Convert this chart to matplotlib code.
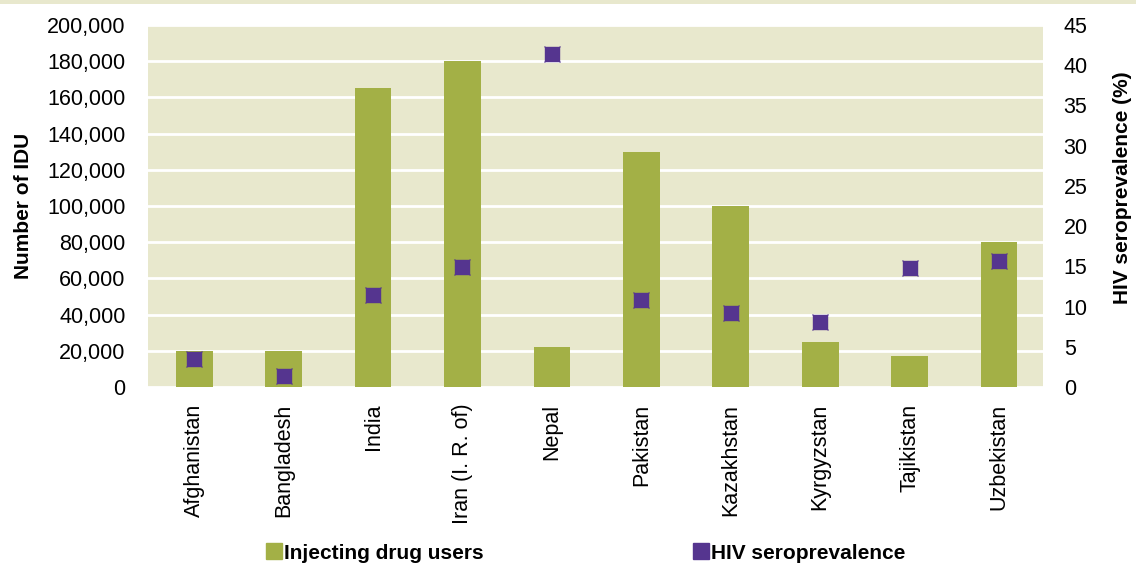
import matplotlib
matplotlib.use("Agg")
import matplotlib.pyplot as plt
from matplotlib.lines import Line2D
from matplotlib.patches import Rectangle
from matplotlib.ticker import FuncFormatter, MultipleLocator

countries = ["Afghanistan", "Bangladesh", "India", "Iran (I. R. of)", "Nepal",
             "Pakistan", "Kazakhstan", "Kyrgyzstan", "Tajikistan", "Uzbekistan"]
idu = [20000, 20000, 165000, 180000, 22000, 130000, 100000, 25000, 17000, 80000]
hiv_prev = [3.5, 1.4, 11.4, 14.9, 41.4, 10.8, 9.2, 8.1, 14.8, 15.7]

BG = "#e8e8cd"
GREEN = "#a3b046"
PURPLE = "#55358f"

plt.rcParams["font.family"] = ["Liberation Sans", "DejaVu Sans"]

fig = plt.figure(figsize=(11.36, 5.65), dpi=100)
fig.patches.append(Rectangle((0, 0.993), 1, 0.007, transform=fig.transFigure,
                             facecolor=BG, edgecolor="none"))
ax = fig.add_axes([0.130, 0.315, 0.788, 0.641])
ax.set_facecolor(BG)
x = list(range(len(countries)))

ax.bar(x, idu, width=0.41, color=GREEN, zorder=2)
ax.set_ylim(0, 200000)
ax.set_xlim(-0.52, 9.49)
ax.yaxis.set_major_locator(MultipleLocator(20000))
ax.yaxis.set_major_formatter(FuncFormatter(lambda v, p: f"{int(v):,}"))
ax.grid(axis="y", color="white", linewidth=2, zorder=1)
ax.set_axisbelow(True)
ax.set_xticks(x)
ax.set_xticklabels(countries, rotation=90, fontsize=15)
ax.tick_params(axis="both", length=0, labelsize=15.5)
ax.tick_params(axis="x", pad=12)
ax.tick_params(axis="y", pad=16)
ax.set_ylabel("Number of IDU", fontsize=15, fontweight="bold", labelpad=10)
for s in ax.spines.values():
    s.set_visible(False)

ax2 = ax.twinx()
ax2.set_ylim(0, 45)
ax2.yaxis.set_major_locator(MultipleLocator(5))
ax2.plot(x, hiv_prev, linestyle="none", marker="s", markersize=10.5,
         color=PURPLE, markeredgecolor=PURPLE, zorder=3)
ax2.plot(x, hiv_prev, linestyle="none", marker="x", markersize=11,
         markeredgewidth=0.9, color=PURPLE, zorder=3)
ax2.tick_params(axis="y", length=0, labelsize=15.5, pad=15)
ax2.set_ylabel("HIV seroprevalence (%)", fontsize=15, fontweight="bold", labelpad=18)
ax2.yaxis.label.set_y(0.55)
for s in ax2.spines.values():
    s.set_visible(False)

h1 = Line2D([], [], linestyle="none", marker="s", markersize=11,
            color=GREEN, markeredgecolor=GREEN)
h2 = Line2D([], [], linestyle="none", marker="s", markersize=11,
            color=PURPLE, markeredgecolor=PURPLE)
lprops = dict(frameon=False, handlelength=0.6, handletextpad=0.2,
              prop={"size": 15, "weight": "bold"}, borderaxespad=0)
fig.legend([h1], ["Injecting drug users"], loc="center left",
           bbox_to_anchor=(0.228, 0.021), **lprops)
fig.legend([h2], ["HIV seroprevalence"], loc="center left",
           bbox_to_anchor=(0.604, 0.021), **lprops)

fig.savefig("out.png", dpi=100)
